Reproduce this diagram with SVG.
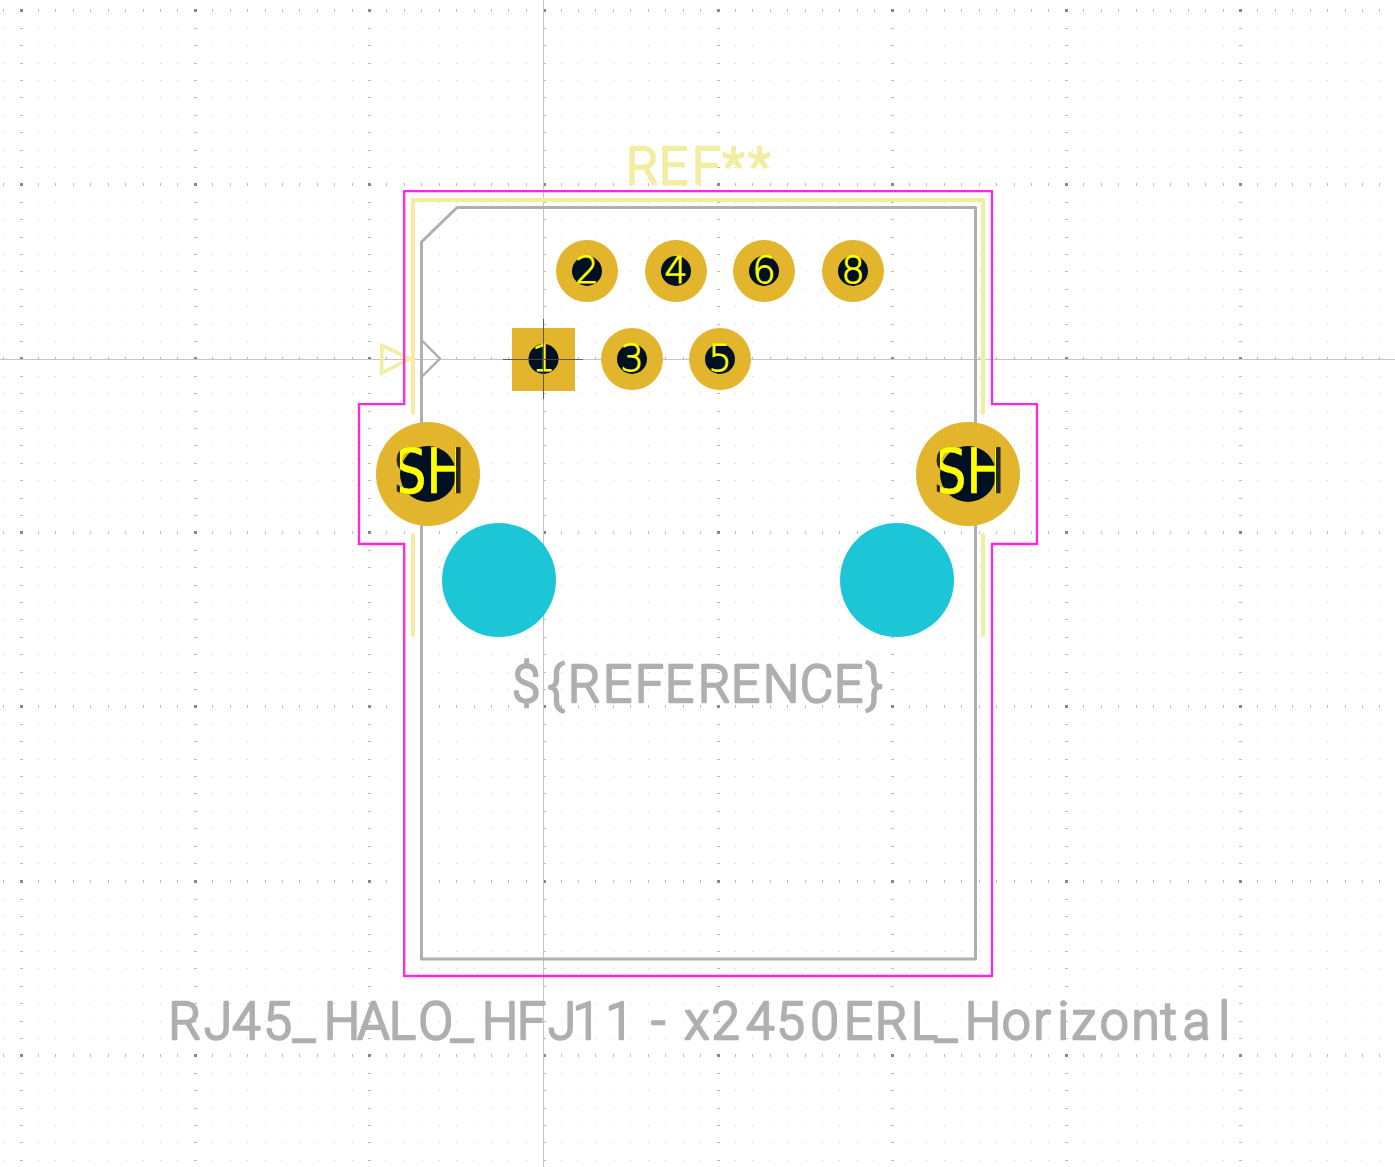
<svg xmlns="http://www.w3.org/2000/svg" xmlns:xlink="http://www.w3.org/1999/xlink" width="1395" height="1167" viewBox="0 0 1395 1167">
<style>
.g{shape-rendering:crispEdges;fill:none}
.m{stroke:#d0d0d0;stroke-width:1;stroke-dasharray:1 16.42}
.mh{stroke:#b8b8b8;stroke-width:1;stroke-dasharray:3 171.2}
.mv{stroke:#bcbcbc;stroke-width:3;stroke-dasharray:1 16.42}
.mj{stroke:#888888;stroke-width:3;stroke-dasharray:3 171.2}
.axis{stroke:#c4c4c4;stroke-width:1;fill:none;shape-rendering:crispEdges}
.court{fill:none;stroke:#ff26e2;stroke-width:2.3}
.silk{fill:none;stroke:#f2eda1;stroke-width:4;stroke-linecap:round;stroke-linejoin:miter}
.fab{fill:none;stroke:#afafaf;stroke-width:3;stroke-linecap:round;stroke-linejoin:round}
.pad{fill:#e2b52c}
.hole{fill:#001023}
.npth{fill:#1cc6d6}
.num{font-family:"DejaVu Sans",sans-serif;font-weight:200;font-size:37px;fill:#ffff00;stroke:#ffff00;stroke-width:.8;text-anchor:middle}
.sh{font-family:"DejaVu Sans",sans-serif;font-size:62px;stroke-width:.7}
.lbl{font-family:Roboto,sans-serif;font-weight:300;font-size:51px;stroke-width:2.4;stroke-linejoin:round}
.fabt{fill:#afafaf;stroke:#afafaf}
.silkt{fill:#f2eda1;stroke:#f2eda1}
</style>
<defs>
<g id="rows">
<line class="g m" x1="3.2" x2="1395" y1="28.5" y2="28.5"/><line class="g mh" x1="20" x2="1395" y1="28.5" y2="28.5"/>
<line class="g m" x1="3.2" x2="1395" y1="45.5" y2="45.5"/><line class="g mh" x1="20" x2="1395" y1="45.5" y2="45.5"/>
<line class="g m" x1="3.2" x2="1395" y1="63.5" y2="63.5"/><line class="g mh" x1="20" x2="1395" y1="63.5" y2="63.5"/>
<line class="g m" x1="3.2" x2="1395" y1="80.5" y2="80.5"/><line class="g mh" x1="20" x2="1395" y1="80.5" y2="80.5"/>
<line class="g m" x1="3.2" x2="1395" y1="97.5" y2="97.5"/><line class="g mh" x1="20" x2="1395" y1="97.5" y2="97.5"/>
<line class="g m" x1="3.2" x2="1395" y1="115.5" y2="115.5"/><line class="g mh" x1="20" x2="1395" y1="115.5" y2="115.5"/>
<line class="g m" x1="3.2" x2="1395" y1="132.5" y2="132.5"/><line class="g mh" x1="20" x2="1395" y1="132.5" y2="132.5"/>
<line class="g m" x1="3.2" x2="1395" y1="150.5" y2="150.5"/><line class="g mh" x1="20" x2="1395" y1="150.5" y2="150.5"/>
<line class="g m" x1="3.2" x2="1395" y1="167.5" y2="167.5"/><line class="g mh" x1="20" x2="1395" y1="167.5" y2="167.5"/>
<line class="g mv" x1="3.2" x2="1395" y1="10.5" y2="10.5"/><line class="g mj" x1="20" x2="1395" y1="10.5" y2="10.5"/>
</g>
<clipPath id="c1"><rect x="400" y="420" width="56" height="110"/></clipPath>
<clipPath id="c2"><rect x="940" y="420" width="56" height="110"/></clipPath>
</defs>
<rect width="1395" height="1167" fill="#ffffff"/>
<g id="grid">
<use xlink:href="#rows"/>
<use xlink:href="#rows" y="174"/>
<use xlink:href="#rows" y="348"/>
<use xlink:href="#rows" y="522"/>
<use xlink:href="#rows" y="696"/>
<use xlink:href="#rows" y="871"/>
<use xlink:href="#rows" y="1045"/>
</g>
<g id="axes">
<line class="axis" x1="543.5" y1="0" x2="543.5" y2="1167"/>
<line class="axis" x1="0" y1="359.5" x2="1395" y2="359.5"/>
</g>
<g id="fab-outline">
<path class="fab" d="M421.5 242L457 207.5H975.5V959H421.5Z"/>
<path class="fab" style="stroke-width:2.4" d="M422.5 341L440 358.7L422.5 376"/>
</g>
<g id="silkscreen">
<path class="silk" d="M413 413V200H983V413M413 535V635M983 535V635"/>
<path class="silk" style="stroke-width:3.6" d="M381.7 345.5L410 358.7L381.7 373Z"/>
</g>
<g id="courtyard">
<path class="court" d="M404.2 191.2H992V404.2H1037V544H992V976H404.2V544H359V404.2H404.2Z"/>
</g>
<g id="npth-left"><circle class="npth" cx="499" cy="580" r="57"/></g>
<g id="npth-right"><circle class="npth" cx="897" cy="580" r="57"/></g>
<g id="pad-1">
<rect class="pad" x="512" y="328" width="63" height="63"/>
<circle class="hole" cx="543.5" cy="359" r="15"/>
<text class="num" x="543.5" y="371">1</text>
<path d="M503 359.5H583M543.5 319V399" stroke="#4a4a5a" stroke-width="1" fill="none" opacity=".85" shape-rendering="crispEdges"/>
</g>
<g id="pad-2"><circle class="pad" cx="587" cy="271" r="31"/><circle class="hole" cx="587" cy="271" r="15"/><text class="num" x="587" y="283">2</text></g>
<g id="pad-3"><circle class="pad" cx="632" cy="359" r="31"/><circle class="hole" cx="632" cy="359" r="15"/><text class="num" x="632" y="371">3</text></g>
<g id="pad-4"><circle class="pad" cx="676" cy="271" r="31"/><circle class="hole" cx="676" cy="271" r="15"/><text class="num" x="676" y="283">4</text></g>
<g id="pad-5"><circle class="pad" cx="720" cy="359" r="31"/><circle class="hole" cx="720" cy="359" r="15"/><text class="num" x="720" y="371">5</text></g>
<g id="pad-6"><circle class="pad" cx="764" cy="271" r="31"/><circle class="hole" cx="764" cy="271" r="15"/><text class="num" x="764" y="283">6</text></g>
<g id="pad-8"><circle class="pad" cx="853" cy="271" r="31"/><circle class="hole" cx="853" cy="271" r="15"/><text class="num" x="853" y="283">8</text></g>
<g id="pad-sh-left">
<circle class="pad" cx="428" cy="474" r="52"/><circle class="hole" cx="428" cy="474" r="28"/>
<text class="sh" x="393.4" y="493" textLength="72" lengthAdjust="spacingAndGlyphs" fill="#2a2622" stroke="#2a2622">SH</text>
<text class="sh" x="393.4" y="493" textLength="72" lengthAdjust="spacingAndGlyphs" fill="#ffff00" stroke="#ffff00" clip-path="url(#c1)">SH</text>
</g>
<g id="pad-sh-right">
<circle class="pad" cx="968" cy="474" r="52"/><circle class="hole" cx="968" cy="474" r="28"/>
<text class="sh" x="933.4" y="493" textLength="72" lengthAdjust="spacingAndGlyphs" fill="#2a2622" stroke="#2a2622">SH</text>
<text class="sh" x="933.4" y="493" textLength="72" lengthAdjust="spacingAndGlyphs" fill="#ffff00" stroke="#ffff00" clip-path="url(#c2)">SH</text>
</g>
<g id="label-ref"><text class="lbl silkt" y="184" x="626 659 692 722.5 748.5">REF**</text></g>
<g id="label-reference"><text class="lbl fabt" y="702" x="512 547.5 568 603 635 665 698 731 763 800 834 866">${REFERENCE}</text></g>
<g id="label-value"><text class="lbl fabt" y="1038.5" x="168.5 204 232 263.5 293 324 357.5 389 418.5 451 482 517 548 572.5 605.5 651 684.5 711.5 746 776.5 810.5 844 875 911 935 965 1002 1033.5 1057.5 1071.5 1100 1131.5 1160.5 1183 1218.5">RJ45_HALO_HFJ11-x2450ERL_Horizontal</text></g>
</svg>
